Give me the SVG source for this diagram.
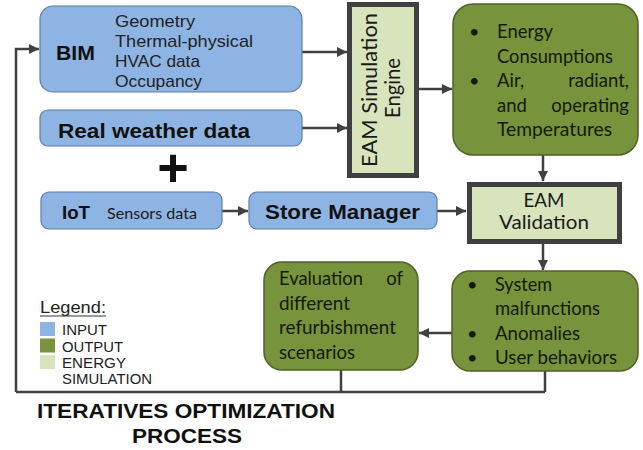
<svg xmlns="http://www.w3.org/2000/svg" width="643" height="450" viewBox="0 0 643 450">
<defs>
<style>
.in{fill:#8eb4e3;stroke:#5b7fae;stroke-width:1.2}
.out{fill:#77933c;stroke:#4f6228;stroke-width:1.5}
.sim{fill:#d8e4bc;stroke:#404040;stroke-width:5}
.b{font-family:"Liberation Sans",Arial,sans-serif;font-weight:bold;fill:#111}
.a{font-family:"Liberation Sans",Arial,sans-serif;fill:#222}
.c{font-family:Lato,"Open Sans",sans-serif;fill:#141a08}
.c2{font-family:Lato,"Open Sans",sans-serif;fill:#1a1a1a}
.ln{fill:none;stroke:#404040;stroke-width:2.5}
</style>
<marker id="ah" viewBox="0 0 10 10" refX="10" refY="5" markerWidth="4" markerHeight="4" orient="auto" markerUnits="strokeWidth">
<path d="M0,0 L10,5 L0,10 z" fill="#404040"/>
</marker>
</defs>
<rect width="643" height="450" fill="#ffffff"/>

<g id="connectors">
<path class="ln" d="M16,392 V49 H39" marker-end="url(#ah)"/>
<path class="ln" d="M302,52 H347" marker-end="url(#ah)"/>
<path class="ln" d="M302,128 H347" marker-end="url(#ah)"/>
<path class="ln" d="M419,89 H452" marker-end="url(#ah)"/>
<path class="ln" d="M543,155 V181" marker-end="url(#ah)"/>
<path class="ln" d="M222,211 H248" marker-end="url(#ah)"/>
<path class="ln" d="M437,211 H466" marker-end="url(#ah)"/>
<path class="ln" d="M543,244 V270" marker-end="url(#ah)"/>
<path class="ln" d="M452,333 H419" marker-end="url(#ah)"/>
<path class="ln" d="M341,370 V392 M545,371 V392 M16,392 H545"/>
</g>

<g id="bim">
<rect class="in" x="40" y="6" width="262" height="86" rx="13"/>
<text class="b" x="56" y="60" font-size="21" textLength="39" lengthAdjust="spacingAndGlyphs">BIM</text>
<text class="a" x="115" y="27" font-size="17" textLength="80" lengthAdjust="spacingAndGlyphs">Geometry</text>
<text class="a" x="115" y="46.5" font-size="17" textLength="138" lengthAdjust="spacingAndGlyphs">Thermal-physical</text>
<text class="a" x="115" y="66.5" font-size="17" textLength="85" lengthAdjust="spacingAndGlyphs">HVAC data</text>
<text class="a" x="115" y="86.5" font-size="17" textLength="87" lengthAdjust="spacingAndGlyphs">Occupancy</text>
</g>

<g id="weather">
<rect class="in" x="40" y="110" width="262" height="36" rx="8"/>
<text class="b" x="58" y="138" font-size="21" textLength="192" lengthAdjust="spacingAndGlyphs">Real weather data</text>
</g>

<g id="plus">
<text class="b" x="173" y="186" font-size="54" text-anchor="middle" fill="#000">+</text>
</g>

<g id="iot">
<rect class="in" x="41" y="192" width="181" height="37" rx="8"/>
<text class="b" x="62" y="219" font-size="19" textLength="28" lengthAdjust="spacingAndGlyphs">IoT</text>
<text class="c2" x="107" y="219" font-size="16" textLength="90" lengthAdjust="spacingAndGlyphs">Sensors data</text>
</g>

<g id="store">
<rect class="in" x="249" y="192" width="188" height="37" rx="8"/>
<text class="b" x="265" y="219" font-size="20" textLength="155" lengthAdjust="spacingAndGlyphs">Store Manager</text>
</g>

<g id="sim-engine">
<rect class="sim" x="349.5" y="4.5" width="67" height="171"/>
<text class="c2" transform="translate(377,90) rotate(-90)" font-size="22" text-anchor="middle" textLength="154" lengthAdjust="spacingAndGlyphs">EAM Simulation</text>
<text class="c2" transform="translate(400,88) rotate(-90)" font-size="22" text-anchor="middle" textLength="60" lengthAdjust="spacingAndGlyphs">Engine</text>
</g>

<g id="energy">
<rect class="out" x="453" y="4" width="185" height="151" rx="20"/>
<text class="c" x="469" y="38" font-size="18">•</text>
<text class="c" x="497" y="38" font-size="18.5" textLength="56" lengthAdjust="spacingAndGlyphs">Energy</text>
<text class="c" x="497" y="62.5" font-size="18.5" textLength="116" lengthAdjust="spacingAndGlyphs">Consumptions</text>
<text class="c" x="469" y="87" font-size="18">•</text>
<text class="c" x="497" y="87" font-size="18.5">Air,</text>
<text class="c" x="629" y="87" font-size="18.5" text-anchor="end">radiant,</text>
<text class="c" x="497" y="111.5" font-size="18.5">and</text>
<text class="c" x="629" y="111.5" font-size="18.5" text-anchor="end">operating</text>
<text class="c" x="497" y="136" font-size="18.5" textLength="115" lengthAdjust="spacingAndGlyphs">Temperatures</text>
</g>

<g id="validation">
<rect class="sim" x="469.5" y="184.5" width="150" height="57"/>
<text class="c2" x="544" y="207" font-size="19" text-anchor="middle" textLength="41" lengthAdjust="spacingAndGlyphs">EAM</text>
<text class="c2" x="544" y="229" font-size="19" text-anchor="middle" textLength="90" lengthAdjust="spacingAndGlyphs">Validation</text>
</g>

<g id="malfunctions">
<rect class="out" x="452" y="271" width="186" height="100" rx="18"/>
<text class="c" x="467" y="290.5" font-size="18">•</text>
<text class="c" x="495" y="290.5" font-size="18.5" textLength="57" lengthAdjust="spacingAndGlyphs">System</text>
<text class="c" x="495" y="315" font-size="18.5" textLength="105" lengthAdjust="spacingAndGlyphs">malfunctions</text>
<text class="c" x="467" y="339.5" font-size="18">•</text>
<text class="c" x="495" y="339.5" font-size="18.5" textLength="85" lengthAdjust="spacingAndGlyphs">Anomalies</text>
<text class="c" x="467" y="364" font-size="18">•</text>
<text class="c" x="495" y="364" font-size="18.5" textLength="122" lengthAdjust="spacingAndGlyphs">User behaviors</text>
</g>

<g id="evaluation">
<rect class="out" x="264" y="262" width="154" height="108" rx="18"/>
<text class="c" x="279" y="285" font-size="18.5" textLength="84" lengthAdjust="spacingAndGlyphs">Evaluation</text>
<text class="c" x="403" y="285" font-size="18.5" text-anchor="end">of</text>
<text class="c" x="279" y="309.5" font-size="18.5" textLength="71" lengthAdjust="spacingAndGlyphs">different</text>
<text class="c" x="279" y="334" font-size="18.5" textLength="117" lengthAdjust="spacingAndGlyphs">refurbishment</text>
<text class="c" x="279" y="358.5" font-size="18.5" textLength="76" lengthAdjust="spacingAndGlyphs">scenarios</text>
</g>

<g id="legend">
<text class="a" x="40" y="313" font-size="17" textLength="66" lengthAdjust="spacingAndGlyphs">Legend:</text>
<line x1="40" y1="316" x2="106" y2="316" stroke="#333" stroke-width="1.2"/>
<rect x="40" y="322" width="15" height="14" fill="#8eb4e3"/>
<rect x="40" y="338.5" width="15" height="14" fill="#77933c"/>
<rect x="40" y="355" width="15" height="14" fill="#d8e4bc"/>
<text class="a" x="62" y="335" font-size="15" textLength="45" lengthAdjust="spacingAndGlyphs">INPUT</text>
<text class="a" x="62" y="351.5" font-size="15" textLength="61" lengthAdjust="spacingAndGlyphs">OUTPUT</text>
<text class="a" x="62" y="367.5" font-size="15" textLength="64" lengthAdjust="spacingAndGlyphs">ENERGY</text>
<text class="a" x="62" y="384" font-size="15" textLength="90" lengthAdjust="spacingAndGlyphs">SIMULATION</text>
</g>

<g id="title">
<text class="b" x="37" y="418" font-size="21" textLength="298" lengthAdjust="spacingAndGlyphs">ITERATIVES OPTIMIZATION</text>
<text class="b" x="132" y="443" font-size="21" textLength="110" lengthAdjust="spacingAndGlyphs">PROCESS</text>
</g>
</svg>
